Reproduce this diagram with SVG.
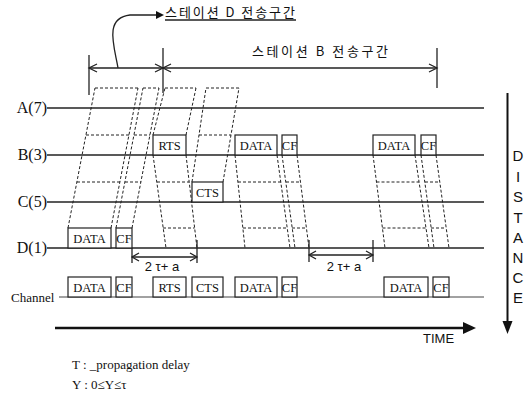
<svg xmlns="http://www.w3.org/2000/svg" width="532" height="395" viewBox="0 0 532 395">
<style>
.ln{stroke:#222;stroke-width:1.3;fill:none}
.ch{stroke:#444;stroke-width:1;fill:none}
.ds{stroke:#222;stroke-width:1;stroke-dasharray:3 2;fill:none}
.bx{stroke:#222;stroke-width:1.2;fill:#fff}
.lb{font-family:"Liberation Serif",serif;font-size:12.5px;text-anchor:middle;fill:#111}
.st{font-family:"Liberation Serif",serif;font-size:16px;text-anchor:end;fill:#111}
.kr{font-family:"Noto Sans CJK KR","Liberation Sans",sans-serif;font-size:13px;fill:#111}
.sn{font-family:"Liberation Sans",sans-serif;fill:#111}
.fn{font-family:"Liberation Serif",serif;font-size:13px;fill:#111}
.ar{fill:#111}
</style>

<!-- header -->
<g id="header-d">
<text class="kr" x="165" y="17" textLength="130" lengthAdjust="spacing">스테이션 D 전송구간</text>
<line class="ln" x1="165" y1="20" x2="296" y2="20" stroke-width="1"/>
</g>
<g id="header-b">
<text class="kr" x="252" y="56" textLength="136" lengthAdjust="spacing">스테이션 B 전송구간</text>
</g>
<g id="dimension-top">
<line class="ln" x1="89" y1="55" x2="89" y2="95"/>
<line class="ln" x1="163" y1="48" x2="163" y2="93"/>
<line class="ln" x1="437" y1="48" x2="437" y2="88"/>
<line class="ln" x1="89" y1="68" x2="437" y2="68"/>
<path class="ln" d="M97,64 L89,68 L97,72 M155,64 L163,68 L155,72 M171,64 L163,68 L171,72 M429,64 L437,68 L429,72"/>
<path class="ln" d="M118,68 C114,45 104,18 130,15 L157,15"/>
<polygon class="ar" points="156,11 164,15 156,19"/>
</g>

<!-- station lines -->
<g id="station-a"><text class="st" x="47" y="113">A(7)</text><line class="ln" x1="47" y1="108" x2="484" y2="108"/></g>
<g id="station-b"><text class="st" x="47" y="160">B(3)</text><line class="ln" x1="47" y1="155" x2="484" y2="155"/></g>
<g id="station-c"><text class="st" x="47" y="207">C(5)</text><line class="ln" x1="47" y1="202" x2="484" y2="202"/></g>
<g id="station-d"><text class="st" x="47" y="253">D(1)</text><line class="ln" x1="47" y1="248" x2="484" y2="248"/></g>
<g id="channel"><text class="fn" x="11" y="302" font-size="15">Channel</text><line class="ch" x1="59" y1="297" x2="484" y2="297"/></g>

<!-- connectors: propagation lines and received frames -->
<g id="connectors">
<path class="ds" d="M68,228 L95,88 M111,228 L138,88 M116,228 L143,88 M132,228 L159,88"/>
<path class="ds" d="M153,135 L165,88 M186,135 L196,88 M153,155 L166,248 M186,155 L197,248"/>
<path class="ds" d="M192,182 L206,88 M223,182 L239,88"/>
<path class="ds" d="M235,155 L245,248 M277,155 L290,248 M282,155 L295,248 M297,155 L309,248"/>
<path class="ds" d="M373,155 L385,248 M415,155 L429,248 M421,155 L434,248 M436,155 L449,248"/>
<!-- received frame tops -->
<path class="ds" d="M95,88 H138 M143,88 H159 M165,88 H196 M206,88 H239"/>
<path class="ds" d="M86,135 H129 M134,135 H150 M199,135 H231"/>
<path class="ds" d="M77,182 H120 M125,182 H141 M157,182 H189 M238,182 H281 M286,182 H300.5 M376.5,182 H419 M425,182 H440"/>
<path class="ds" d="M163,228 H194.5 M243,228 H287 M292,228 H306.5 M382.5,228 H426 M431,228 H446"/>
</g>

<!-- transmitted frames -->
<g id="b-rts"><rect class="bx" x="153" y="135" width="33" height="20"/><text class="lb" x="169.5" y="150">RTS</text></g>
<g id="b-data1"><rect class="bx" x="235" y="135" width="42" height="20"/><text class="lb" x="256" y="150">DATA</text></g>
<g id="b-cf1"><rect class="bx" x="282" y="135" width="15" height="20"/><text class="lb" x="289.5" y="150">CF</text></g>
<g id="b-data2"><rect class="bx" x="373" y="135" width="42" height="20"/><text class="lb" x="394" y="150">DATA</text></g>
<g id="b-cf2"><rect class="bx" x="421" y="135" width="15" height="20"/><text class="lb" x="428.5" y="150">CF</text></g>
<g id="c-cts"><rect class="bx" x="192" y="182" width="31" height="20"/><text class="lb" x="207.5" y="197">CTS</text></g>
<g id="d-data"><rect class="bx" x="68" y="228" width="43" height="20"/><text class="lb" x="89.5" y="243">DATA</text></g>
<g id="d-cf"><rect class="bx" x="116" y="228" width="16" height="20"/><text class="lb" x="124" y="243">CF</text></g>

<g id="ch-data1"><rect class="bx" x="68" y="277" width="43" height="20"/><text class="lb" x="89.5" y="292">DATA</text></g>
<g id="ch-cf1"><rect class="bx" x="116" y="277" width="16" height="20"/><text class="lb" x="124" y="292">CF</text></g>
<g id="ch-rts"><rect class="bx" x="153" y="277" width="33" height="20"/><text class="lb" x="169.5" y="292">RTS</text></g>
<g id="ch-cts"><rect class="bx" x="192" y="277" width="31" height="20"/><text class="lb" x="207.5" y="292">CTS</text></g>
<g id="ch-data2"><rect class="bx" x="235" y="277" width="42" height="20"/><text class="lb" x="256" y="292">DATA</text></g>
<g id="ch-cf2"><rect class="bx" x="282" y="277" width="15" height="20"/><text class="lb" x="289.5" y="292">CF</text></g>
<g id="ch-data3"><rect class="bx" x="384" y="277" width="44" height="20"/><text class="lb" x="406" y="292">DATA</text></g>
<g id="ch-cf3"><rect class="bx" x="433" y="277" width="16" height="20"/><text class="lb" x="441" y="292">CF</text></g>

<!-- 2tau+a dimensions -->
<g id="gap-1">
<line class="ln" x1="132" y1="248" x2="132" y2="263" stroke-width="1"/>
<line class="ln" x1="197" y1="240" x2="197" y2="263" stroke-width="1"/>
<line class="ln" x1="132" y1="257" x2="197" y2="257" stroke-width="1"/>
<path class="ln" stroke-width="1" d="M139,253 L132,257 L139,261 M190,253 L197,257 L190,261"/>
<text class="sn" x="162" y="271" font-size="13" text-anchor="middle">2 τ+ a</text>
</g>
<g id="gap-2">
<line class="ln" x1="309" y1="240" x2="309" y2="262" stroke-width="1"/>
<line class="ln" x1="373" y1="240" x2="373" y2="262" stroke-width="1"/>
<line class="ln" x1="309" y1="255" x2="373" y2="255" stroke-width="1"/>
<path class="ln" stroke-width="1" d="M316,251 L309,255 L316,259 M366,251 L373,255 L366,259"/>
<text class="sn" x="344" y="271" font-size="13" text-anchor="middle">2 τ+ a</text>
</g>

<!-- axes -->
<g id="time-axis">
<line x1="55" y1="328" x2="465" y2="328" stroke="#111" stroke-width="2.6"/>
<polygon class="ar" points="463,322 476,328 463,334"/>
<text class="sn" x="423" y="343" font-size="13">TIME</text>
</g>
<g id="distance-axis">
<line x1="507.5" y1="93" x2="507.5" y2="323" stroke="#111" stroke-width="2"/>
<polygon class="ar" points="502.5,321 512.5,321 507.5,334"/>
<g class="sn" font-size="15" text-anchor="middle">
<text x="518" y="161">D</text><text x="518" y="182">I</text><text x="518" y="202">S</text><text x="518" y="223">T</text>
<text x="518" y="243">A</text><text x="518" y="263">N</text><text x="518" y="283">C</text><text x="518" y="303">E</text>
</g>
</g>

<g id="legend">
<text class="fn" x="72" y="369">T : _propagation delay</text>
<text class="fn" x="72" y="389" font-size="14">Y : 0≤Y≤τ</text>
</g>
</svg>
